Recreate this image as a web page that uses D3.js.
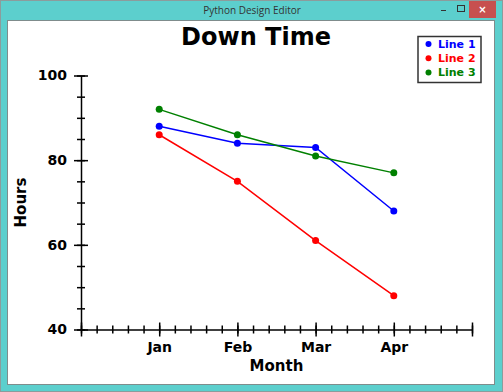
<!DOCTYPE html>
<html>
<head>
<meta charset="utf-8">
<script src="https://cdn.jsdelivr.net/npm/d3@7"></script>
<style>
  body { margin: 0; background: #fff; }
  svg { display: block; }
  .axis path, .axis line { stroke: #000; stroke-width: 1.5; }
  .axis text { font-family: "DejaVu Sans", Verdana, sans-serif; font-weight: bold; font-size: 14px; fill: #000; }
</style>
</head>
<body>
<script>
// data
let months = ['Jan', 'Feb', 'Mar', 'Apr'];
let line1 = [88, 84, 83, 68];
let line2 = [86, 75, 61, 48];
let line3 = [92, 86, 81, 77];
let seriesNames = ['Line 1', 'Line 2', 'Line 3'];
let seriesColors = ['#0000ff', '#ff0000', '#008000'];
let yTicks = [40, 60, 80, 100];

let width = 503;
let height = 392;

let svg = d3.select('body')
  .append('svg')
  .attr('width', width)
  .attr('height', height);

// window frame
svg.append('rect')
  .attr('x', 0.5).attr('y', 0.5)
  .attr('width', width - 1).attr('height', height - 1)
  .attr('fill', '#5ccfcd')
  .attr('stroke', '#8c9c9c');

svg.append('rect')
  .attr('x', 7.5).attr('y', 20.5)
  .attr('width', 487).attr('height', 364)
  .attr('fill', '#fff')
  .attr('stroke', '#7f8c8c');

svg.append('text')
  .attr('x', 252).attr('y', 14)
  .attr('text-anchor', 'middle')
  .style('font-family', '"Open Sans", sans-serif')
  .style('font-size', '10px')
  .style('fill', '#333')
  .text('Python Design Editor');

// window buttons
svg.append('rect')
  .attr('x', 469).attr('y', 1)
  .attr('width', 27).attr('height', 17)
  .attr('fill', '#c7504f');
svg.append('text')
  .attr('x', 482.5).attr('y', 13)
  .attr('text-anchor', 'middle')
  .style('font-family', '"DejaVu Sans", sans-serif')
  .style('font-size', '10px')
  .style('font-weight', 'bold')
  .style('fill', '#fff')
  .text('×');
svg.append('rect')
  .attr('x', 457.5).attr('y', 5.5)
  .attr('width', 7).attr('height', 6)
  .attr('fill', 'none')
  .attr('stroke', '#333')
  .attr('stroke-width', 1);
svg.append('line')
  .attr('x1', 441).attr('x2', 446)
  .attr('y1', 10.5).attr('y2', 10.5)
  .attr('stroke', '#333');

// scales
let x = d3.scaleLinear()
  .domain([0, 5])
  .range([81, 472]);
let y = d3.scaleLinear()
  .domain([40, 100])
  .range([329.5, 75.5]);

// x axis: minor then major
let xMinor = svg.append('g')
  .attr('class', 'axis')
  .attr('transform', 'translate(0,' + y(40) + ')')
  .call(d3.axisBottom(x).tickValues(d3.range(0, 26).map(function (i) { return i / 5; })).tickFormat('').tickSizeOuter(0));
xMinor.selectAll('line').attr('y1', -4).attr('y2', 4);

let xMajor = svg.append('g')
  .attr('class', 'axis')
  .attr('transform', 'translate(0,' + y(40) + ')')
  .call(d3.axisBottom(x).tickValues([0, 1, 2, 3, 4, 5]).tickSizeOuter(0)
    .tickFormat(function (d) { return months[d - 1] || ''; }));
xMajor.select('.domain').remove();
xMajor.selectAll('line').attr('y1', -7).attr('y2', 7);
xMajor.selectAll('text').attr('y', 13).attr('dy', '0.71em');

// y axis
let yMinor = svg.append('g')
  .attr('class', 'axis')
  .attr('transform', 'translate(' + x(0) + ',0)')
  .call(d3.axisLeft(y).tickValues(d3.range(40, 101, 5)).tickFormat('').tickSizeOuter(0));
yMinor.selectAll('line').attr('x1', -4).attr('x2', 4);

let yMajor = svg.append('g')
  .attr('class', 'axis')
  .attr('transform', 'translate(' + x(0) + ',0)')
  .call(d3.axisLeft(y).tickValues(yTicks).tickSizeOuter(0));
yMajor.select('.domain').remove();
yMajor.selectAll('line').attr('x1', -7).attr('x2', 7);
yMajor.selectAll('text').attr('x', -14);

// axis titles
svg.append('text')
  .attr('x', (x(0) + x(5)) / 2)
  .attr('y', 371)
  .attr('text-anchor', 'middle')
  .style('font-family', '"DejaVu Sans", Verdana, sans-serif')
  .style('font-weight', 'bold')
  .style('font-size', '15px')
  .text('Month');

svg.append('text')
  .attr('transform', 'translate(26,' + (y(40) + y(100)) / 2 + ') rotate(-90)')
  .attr('text-anchor', 'middle')
  .style('font-family', '"DejaVu Sans", Verdana, sans-serif')
  .style('font-weight', 'bold')
  .style('font-size', '15px')
  .text('Hours');

// chart title
svg.append('text')
  .attr('x', 256)
  .attr('y', 45)
  .attr('text-anchor', 'middle')
  .style('font-family', '"DejaVu Sans", Verdana, sans-serif')
  .style('font-weight', 'bold')
  .style('font-size', '24px')
  .text('Down Time');

// lines and points
let series = [line1, line2, line3];
let line = d3.line()
  .x(function (d, i) { return x(i + 1); })
  .y(function (d) { return y(d); });

series.forEach(function (s, k) {
  svg.append('path')
    .attr('d', line(s))
    .attr('fill', 'none')
    .attr('stroke', seriesColors[k])
    .attr('stroke-width', 1.5);
  svg.selectAll('.pt' + k)
    .data(s)
    .enter()
    .append('circle')
    .attr('cx', function (d, i) { return x(i + 1); })
    .attr('cy', function (d) { return y(d); })
    .attr('r', 3.5)
    .attr('fill', seriesColors[k]);
});

// legend
let legend = svg.append('g');
legend.append('rect')
  .attr('x', 418).attr('y', 36.5)
  .attr('width', 63).attr('height', 46)
  .attr('fill', '#fff')
  .attr('stroke', '#333')
  .attr('stroke-width', 1.5);
seriesNames.forEach(function (name, k) {
  legend.append('circle')
    .attr('cx', 428.5)
    .attr('cy', 44 + k * 14.3)
    .attr('r', 3)
    .attr('fill', seriesColors[k]);
  legend.append('text')
    .attr('x', 438)
    .attr('y', 44 + k * 14.3)
    .attr('dy', '0.35em')
    .style('font-family', '"DejaVu Sans", Verdana, sans-serif')
    .style('font-weight', 'bold')
    .style('font-size', '11px')
    .style('fill', seriesColors[k])
    .text(name);
});
</script>
</body>
</html>
